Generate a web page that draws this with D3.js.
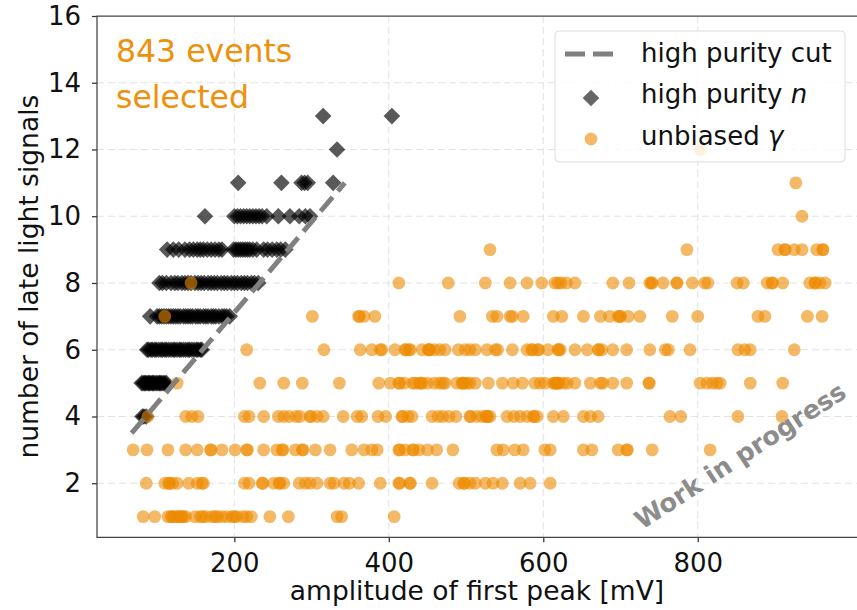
<!DOCTYPE html>
<html lang="en">
<head>
<meta charset="utf-8">
<title>Late light signals vs amplitude of first peak</title>
<script src="https://cdnjs.cloudflare.com/ajax/libs/d3/7.8.5/d3.min.js"></script>
<style>
  body { margin: 0; background: #fff; }
  svg text { font-family: "DejaVu Sans", sans-serif; }
</style>
</head>
<body>
<svg width="857" height="610"></svg>
<script>

// ---- data ----
var xTicks = [200, 400, 600, 800],
    yTicks = [2, 4, 6, 8, 10, 12, 14, 16];

// unbiased gamma: number of late light signals, and amplitudes [mV] on each row
var gammaSignals = [1, 2, 3, 4, 5, 6, 7, 8, 9, 10, 11, 12];
var gammaAmps = [
  [82, 97, 114, 118, 120, 122, 126, 128, 130, 132, 134, 137, 149, 156, 159, 163, 171, 175, 178, 184, 190, 197, 200, 203, 211, 216, 222, 246, 270, 333, 339, 407],
  [86, 110, 115, 116, 120, 126, 141, 152, 158, 160, 213, 219, 236, 237, 251, 258, 259, 264, 284, 292, 298, 307, 324, 329, 342, 349, 361, 389, 413, 414, 427, 428, 456, 491, 497, 498, 505, 512, 525, 535, 547, 570, 583, 609],
  [69, 87, 114, 137, 152, 169, 170, 184, 201, 216, 217, 238, 255, 262, 263, 279, 288, 289, 305, 324, 352, 368, 378, 385, 413, 414, 421, 431, 432, 439, 450, 462, 483, 540, 548, 563, 574, 602, 609, 652, 663, 697, 708, 709, 741, 816],
  [88, 137, 145, 153, 213, 219, 238, 257, 264, 271, 280, 285, 298, 299, 307, 315, 341, 359, 365, 386, 396, 417, 418, 425, 430, 456, 464, 470, 478, 487, 505, 506, 514, 521, 526, 527, 528, 531, 553, 562, 570, 579, 587, 588, 592, 613, 626, 652, 661, 671, 764, 778, 852, 909],
  [126, 233, 264, 288, 336, 387, 402, 413, 414, 420, 431, 434, 440, 441, 443, 450, 459, 466, 470, 473, 488, 495, 496, 497, 501, 505, 512, 529, 547, 561, 573, 589, 596, 602, 613, 615, 616, 618, 619, 620, 626, 631, 641, 661, 674, 677, 690, 708, 737, 737, 803, 812, 819, 825, 829, 868, 910],
  [216, 316, 363, 378, 389, 391, 408, 421, 422, 426, 428, 443, 451, 452, 453, 459, 466, 473, 490, 499, 505, 512, 527, 538, 541, 560, 579, 585, 586, 593, 594, 606, 619, 620, 622, 641, 657, 671, 672, 676, 690, 708, 738, 758, 762, 790, 852, 861, 868, 925],
  [110, 301, 361, 362, 368, 382, 492, 534, 540, 557, 560, 574, 613, 624, 652, 674, 686, 697, 699, 700, 710, 725, 767, 800, 878, 887, 942, 961],
  [144, 413, 477, 525, 557, 579, 598, 615, 619, 623, 630, 641, 690, 711, 738, 740, 741, 755, 773, 773, 793, 809, 813, 851, 859, 890, 896, 897, 910, 945, 952, 952, 958, 965],
  [531, 786, 904, 913, 913, 925, 935, 954, 962, 962],
  [935],
  [927],
  [803]
];

// high purity neutrons
var neutronSignals = [4, 5, 6, 7, 8, 9, 10, 11, 12, 13];
var neutronAmps = [
  [81, 83, 86],
  [80, 82, 84, 85, 87, 89, 90, 92, 94, 95, 97, 99, 101, 103, 104, 106, 108, 110, 112],
  [87, 89, 92, 94, 97, 99, 102, 105, 107, 110, 112, 115, 118, 121, 123, 126, 129, 131, 134, 137, 140, 142, 145, 148, 151, 153, 156, 158],
  [91, 100, 103, 106, 109, 112, 115, 118, 121, 124, 127, 130, 134, 137, 140, 143, 146, 150, 153, 156, 160, 163, 166, 170, 173, 176, 180, 184, 187, 190, 194],
  [103, 107, 112, 118, 123, 127, 132, 136, 140, 144, 149, 153, 157, 161, 166, 170, 174, 178, 183, 187, 191, 196, 200, 204, 209, 213, 217, 222, 226, 231],
  [113, 121, 128, 136, 142, 147, 152, 156, 160, 165, 170, 175, 180, 184, 199, 202, 205, 208, 211, 214, 217, 220, 224, 229, 238, 243, 249, 255, 260, 266],
  [162, 200, 204, 208, 212, 216, 220, 224, 228, 232, 236, 242, 257, 272, 284, 292, 298],
  [205, 261, 287, 291, 295, 328],
  [333],
  [315, 404]
];

// high purity cut line end points
var cutAmps = [67, 343],
    cutSignals = [3.5, 11];

var eventCount = 843;

// ---- chart ----
var svg = d3.select("svg"),
    plotLeft = 97, plotTop = 16, plotRight = 857, plotBottom = 537.3,
    orange = "#ec8a00";

var x = d3.scaleLinear().domain([22.2, 1006.2]).range([plotLeft, plotRight]),
    y = d3.scaleLinear().domain([0.38, 16]).range([plotBottom, plotTop]);

// grid
var grid = svg.append("g").attr("stroke", "#e2e2e2").attr("stroke-dasharray", "7,4").attr("stroke-width", 1);
grid.selectAll(".gx").data(xTicks).enter().append("line")
    .attr("x1", d => x(d)).attr("x2", d => x(d)).attr("y1", plotTop).attr("y2", plotBottom);
grid.selectAll(".gy").data(yTicks.filter(d => d < 16)).enter().append("line")
    .attr("x1", plotLeft).attr("x2", plotRight).attr("y1", d => y(d)).attr("y2", d => y(d));

function flatten(levels, amps) {
  var out = [];
  levels.forEach(function (lv, i) {
    amps[i].forEach(function (a) { out.push({ amp: a, n: lv }); });
  });
  return out;
}

// neutrons (diamonds)
var diamond = d3.symbol().type(d3.symbolSquare).size(138);
svg.append("g").selectAll("path")
   .data(flatten(neutronSignals, neutronAmps))
   .enter().append("path")
   .attr("d", diamond)
   .attr("transform", d => "translate(" + x(d.amp) + "," + y(d.n) + ") rotate(45)")
   .attr("fill", "#000")
   .attr("fill-opacity", 0.65);

// gammas (circles)
svg.append("g").selectAll("circle")
   .data(flatten(gammaSignals, gammaAmps))
   .enter().append("circle")
   .attr("cx", d => x(d.amp))
   .attr("cy", d => y(d.n))
   .attr("r", 6.4)
   .attr("fill", orange)
   .attr("fill-opacity", 0.6);

// cut line
svg.append("line")
   .attr("x1", x(cutAmps[0])).attr("y1", y(cutSignals[0]))
   .attr("x2", x(cutAmps[1])).attr("y2", y(cutSignals[1]))
   .attr("stroke", "#808080")
   .attr("stroke-width", 5)
   .attr("stroke-dasharray", "18.5,8");

// axes
var xAxis = svg.append("g")
   .attr("transform", "translate(0," + plotBottom + ")")
   .call(d3.axisBottom(x).tickValues(xTicks).tickSize(5).tickPadding(11));
var yAxis = svg.append("g")
   .attr("transform", "translate(" + plotLeft + ",0)")
   .call(d3.axisLeft(y).tickValues(yTicks).tickSize(5).tickPadding(11));
[xAxis, yAxis].forEach(function (a) {
  a.select(".domain").remove();
  a.selectAll("line").attr("stroke", "#333").attr("stroke-width", 1.25);
  a.selectAll("text").attr("font-size", "26px").attr("fill", "#111")
   .attr("font-family", "DejaVu Sans, sans-serif");
});

// spines
svg.append("path")
   .attr("d", "M" + plotRight + "," + plotTop + "H" + plotLeft + "V" + plotBottom + "H" + plotRight)
   .attr("fill", "none").attr("stroke", "#444").attr("stroke-width", 1.25);

// axis labels
svg.append("text")
   .attr("x", (plotLeft + plotRight) / 2).attr("y", 600)
   .attr("text-anchor", "middle").attr("font-size", "26.5px").attr("fill", "#111")
   .text("amplitude of first peak [mV]");
svg.append("text")
   .attr("transform", "translate(38," + ((plotTop + plotBottom) / 2) + ") rotate(-90)")
   .attr("text-anchor", "middle").attr("font-size", "26.5px").attr("fill", "#111")
   .text("number of late light signals");

// event count
var note = svg.append("text")
   .attr("font-family", "Open Sans, sans-serif").attr("font-size", "31.5px").attr("fill", "#ef900b");
note.append("tspan").attr("x", 116).attr("y", 62).text(eventCount + " events");
note.append("tspan").attr("x", 116).attr("y", 108).text("selected");

// watermark
svg.append("text")
   .attr("transform", "translate(642,530) rotate(-33)")
   .attr("font-size", "25.5px").attr("font-weight", "bold").attr("fill", "#8c8c8c")
   .text("Work in progress");

// legend
var lg = svg.append("g");
lg.append("rect")
  .attr("x", 555).attr("y", 31).attr("width", 290).attr("height", 131).attr("rx", 4)
  .attr("fill", "#fff").attr("fill-opacity", 0.8)
  .attr("stroke", "#dcdcdc").attr("stroke-width", 1);
lg.append("line")
  .attr("x1", 565).attr("x2", 613).attr("y1", 54).attr("y2", 54)
  .attr("stroke", "#808080").attr("stroke-width", 5).attr("stroke-dasharray", "20,8");
lg.append("path")
  .attr("d", diamond)
  .attr("transform", "translate(591,98) rotate(45)")
  .attr("fill", "#000").attr("fill-opacity", 0.6);
lg.append("circle")
  .attr("cx", 591).attr("cy", 139).attr("r", 6.4)
  .attr("fill", orange).attr("fill-opacity", 0.6);

var labels = [["high purity cut", ""], ["high purity ", "n"], ["unbiased ", "γ"]];
labels.forEach(function (l, i) {
  var t = lg.append("text").attr("x", 641).attr("y", 62 + i * 41.3)
    .attr("font-size", "26px").attr("fill", "#111");
  t.append("tspan").text(l[0]);
  if (l[1]) t.append("tspan").attr("font-style", "italic").text(l[1]);
});

</script>
</body>
</html>
